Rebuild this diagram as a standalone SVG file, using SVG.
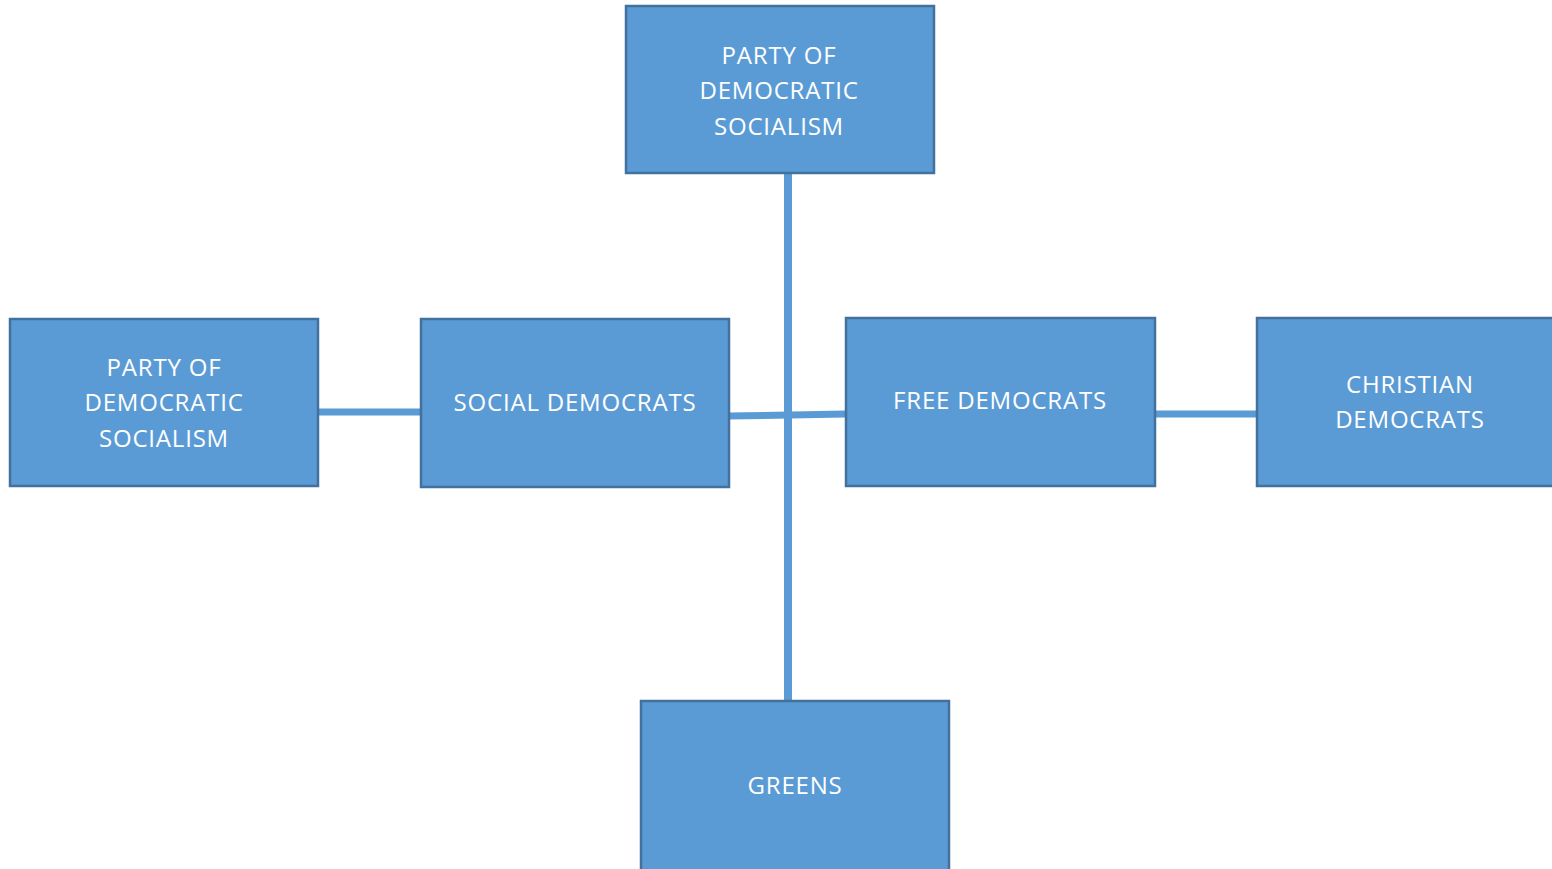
<svg xmlns="http://www.w3.org/2000/svg" width="1552" height="869" viewBox="0 0 1552 869">
<style>
.box{fill:#5B9BD5;stroke:#41719C;stroke-width:2.5}
.lbl{font-family:"Open Sans","Liberation Sans",sans-serif;font-size:24px;letter-spacing:0.8px;fill:#FFFFFF;text-anchor:middle}
.con{stroke:#5B9BD5;fill:none}
</style>
<rect width="1552" height="869" fill="#FFFFFF"/>
<g id="connectors">
<line class="con" x1="788" y1="173" x2="788" y2="701" stroke-width="8"/>
<line class="con" x1="318" y1="412" x2="421" y2="412" stroke-width="7"/>
<line class="con" x1="729" y1="416" x2="846" y2="414" stroke-width="7"/>
<line class="con" x1="1155" y1="414" x2="1257" y2="414" stroke-width="7"/>
</g>
<g id="pds-top">
<rect class="box" x="626" y="6" width="308" height="167"/>
<text class="lbl" x="779" y="64">PARTY OF</text>
<text class="lbl" x="779" y="99">DEMOCRATIC</text>
<text class="lbl" x="779" y="135">SOCIALISM</text>
</g>
<g id="pds-left">
<rect class="box" x="10" y="319" width="308" height="167"/>
<text class="lbl" x="164" y="376">PARTY OF</text>
<text class="lbl" x="164" y="411">DEMOCRATIC</text>
<text class="lbl" x="164" y="447">SOCIALISM</text>
</g>
<g id="social-democrats">
<rect class="box" x="421" y="319" width="308" height="168"/>
<text class="lbl" x="575" y="411">SOCIAL DEMOCRATS</text>
</g>
<g id="free-democrats">
<rect class="box" x="846" y="318" width="309" height="168"/>
<text class="lbl" x="1000" y="409">FREE DEMOCRATS</text>
</g>
<g id="christian-democrats">
<rect class="box" x="1257" y="318" width="305" height="168"/>
<text class="lbl" x="1410" y="393">CHRISTIAN</text>
<text class="lbl" x="1410" y="428">DEMOCRATS</text>
</g>
<g id="greens">
<rect class="box" x="641" y="701" width="308" height="178"/>
<text class="lbl" x="795" y="794">GREENS</text>
</g>
</svg>
